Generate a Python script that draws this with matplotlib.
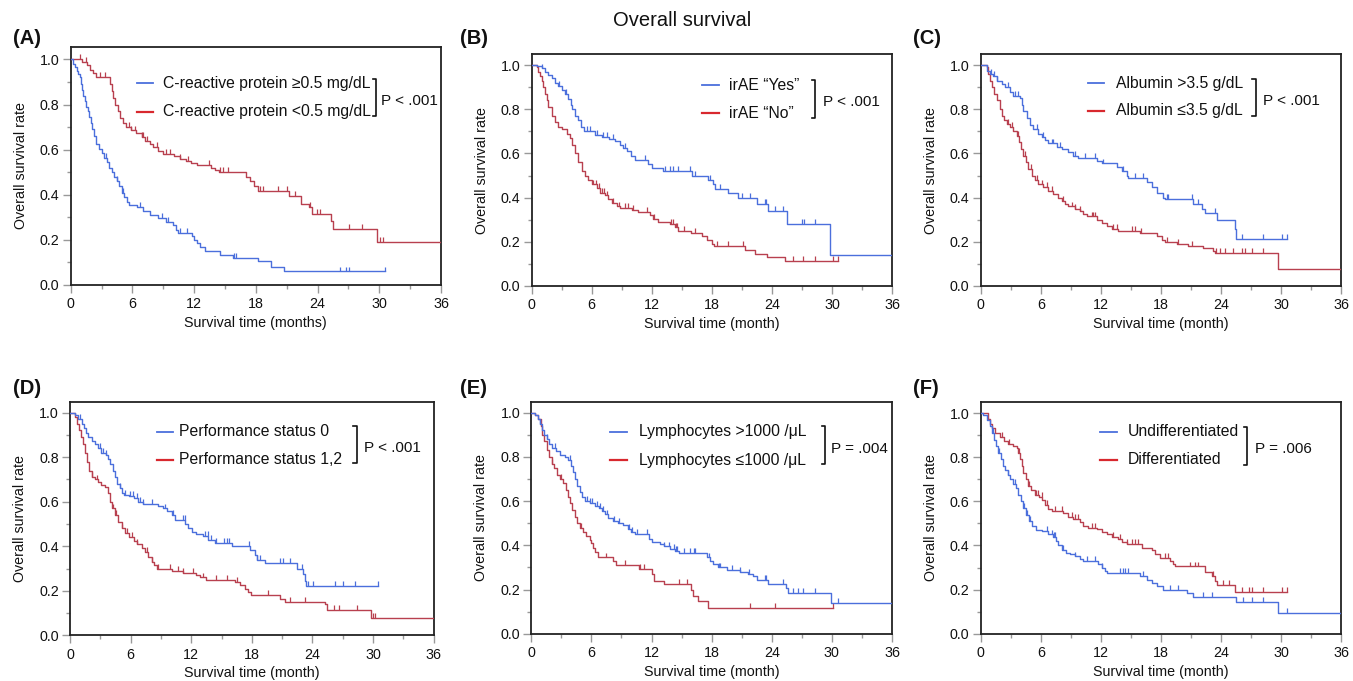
import numpy as np
import matplotlib
matplotlib.use("Agg")
import matplotlib.pyplot as plt
import matplotlib.transforms as mtransforms
from matplotlib.lines import Line2D
from matplotlib.ticker import MultipleLocator

plt.rcParams['font.family'] = ['Liberation Sans', 'DejaVu Sans']

W, H = 1353, 681

# ---------------- data ----------------
title = "Overall survival"
panel_labels = ["(A)", "(B)", "(C)", "(D)", "(E)", "(F)"]
xlabels = ["Survival time (months)", "Survival time (month)", "Survival time (month)",
           "Survival time (month)", "Survival time (month)", "Survival time (month)"]
ylabel = "Overall survival rate"
legend_blue = ["C-reactive protein \u22650.5 mg/dL", "irAE \u201cYes\u201d", "Albumin >3.5 g/dL",
               "Performance status 0", "Lymphocytes >1000 /\u03bcL", "Undifferentiated"]
legend_red = ["C-reactive protein <0.5 mg/dL", "irAE \u201cNo\u201d", "Albumin \u22643.5 g/dL",
              "Performance status 1,2", "Lymphocytes \u22641000 /\u03bcL", "Differentiated"]
p_values = ["P < .001", "P < .001", "P < .001", "P < .001", "P = .004", "P = .006"]
x_ticks = [0, 6, 12, 18, 24, 30, 36]
y_ticks = [0.0, 0.2, 0.4, 0.6, 0.8, 1.0]

# Panel A
a_blue_t = [0.25,0.45,0.6,0.75,0.9,1.0,1.1,1.2,1.35,1.5,1.65,1.8,1.95,2.1,2.3,2.5,2.75,3.0,3.25,3.5,3.75,4.0,4.25,4.5,4.7,4.95,5.2,5.45,5.65,6.4,7.05,7.7,8.5,9.3,9.9,10.2,10.45,11.8,11.95,12.3,12.6,13.05,14.5,15.8,18.2,19.5,20.7]
a_blue_s = [0.98,0.965,0.95,0.935,0.92,0.89,0.865,0.84,0.815,0.79,0.77,0.745,0.72,0.69,0.66,0.625,0.605,0.585,0.565,0.545,0.52,0.50,0.48,0.46,0.44,0.41,0.39,0.37,0.355,0.345,0.33,0.31,0.295,0.28,0.265,0.245,0.23,0.215,0.20,0.185,0.17,0.15,0.135,0.12,0.105,0.08,0.06]
a_blue_end = 30.6
a_blue_cens = [3.4,4.5,5.05,6.7,8.85,9.5,10.6,11.3,15.9,16.1,26.2,26.8,27.1,30.6]
a_red_t = [1.05,1.6,1.85,2.2,2.5,3.8,4.0,4.15,4.35,4.55,4.8,5.1,5.4,5.9,6.3,6.9,7.2,7.7,8.0,8.5,9.0,10.0,10.6,11.2,11.7,12.3,13.6,14.0,14.4,17.0,17.4,17.8,18.2,21.2,22.4,23.2,23.5,25.3,25.5,29.75]
a_red_s = [0.99,0.975,0.955,0.94,0.92,0.89,0.86,0.83,0.80,0.77,0.74,0.72,0.70,0.685,0.675,0.655,0.64,0.625,0.61,0.595,0.58,0.57,0.56,0.55,0.54,0.53,0.52,0.51,0.50,0.48,0.46,0.44,0.415,0.395,0.36,0.345,0.315,0.285,0.25,0.19]
a_red_end = 36
a_red_cens = [0.9,1.5,2.85,3.35,5.7,5.9,6.25,6.9,7.05,7.4,8.35,9.3,9.65,10.6,11.45,13.4,14.5,14.85,15.3,18.4,18.7,20.2,21.0,21.8,23.3,23.9,24.25,27.1,28.3,30.1,30.4]

# Panel B
b_blue_t = [0.5,1.0,1.33,1.67,2.0,2.33,2.66,3.0,3.33,3.66,3.9,4.05,4.3,4.65,4.95,5.25,6.3,7.0,7.7,8.3,8.8,9.15,9.5,9.9,10.3,11.6,12.0,13.15,16.0,17.65,18.1,18.3,19.65,20.65,22.5,23.6,25.5,29.8]
b_blue_s = [0.995,0.985,0.97,0.955,0.94,0.92,0.905,0.885,0.87,0.845,0.82,0.80,0.77,0.75,0.72,0.70,0.685,0.675,0.665,0.655,0.64,0.625,0.61,0.59,0.57,0.55,0.535,0.52,0.50,0.48,0.46,0.44,0.42,0.40,0.37,0.34,0.28,0.14]
b_blue_end = 36
b_blue_cens = [1.07,2.7,3.4,5.5,5.85,6.5,7.1,7.5,8.16,9.3,11.3,13.3,13.8,14.15,14.65,15.8,16.3,17.8,18.8,21.0,21.8,23.3,23.45,24.3,25.1,27.0,27.2,28.3]
b_red_t = [0.5,0.67,0.83,1.0,1.17,1.33,1.5,1.67,2.0,2.33,2.66,3.0,3.5,3.83,4.0,4.33,4.67,5.0,5.33,5.66,6.0,6.5,6.83,7.33,7.66,8.0,8.5,8.8,10.0,10.66,11.8,12.15,12.66,13.8,14.3,14.65,15.9,17.0,17.5,18.0,18.25,21.3,22.3,23.5,25.3]
b_red_s = [0.99,0.97,0.95,0.93,0.90,0.87,0.84,0.81,0.77,0.74,0.72,0.71,0.69,0.67,0.64,0.60,0.56,0.52,0.50,0.48,0.46,0.445,0.42,0.41,0.395,0.375,0.36,0.355,0.345,0.335,0.32,0.305,0.29,0.28,0.265,0.25,0.24,0.225,0.21,0.19,0.18,0.165,0.145,0.13,0.115]
b_red_end = 30.6
b_red_cens = [6.1,6.4,6.7,7.0,7.2,7.5,8.1,8.7,9.3,9.65,10.1,11.5,12.2,13.95,14.1,14.4,14.5,15.2,16.3,18.5,19.65,21.1,26.1,27.1,28.3,30.1,30.6]

# Panel C
c_blue_t = [0.6,0.93,1.27,1.6,2.1,2.43,2.93,3.26,3.93,4.1,4.26,4.6,4.93,5.26,5.76,6.1,6.43,6.76,7.6,8.1,8.76,9.26,9.76,11.6,12.1,13.6,14.1,14.6,14.75,16.6,17.1,17.6,18.25,18.4,21.25,22.1,22.4,23.6,25.4,25.5]
c_blue_s = [0.975,0.96,0.95,0.93,0.915,0.90,0.88,0.86,0.85,0.82,0.79,0.76,0.73,0.71,0.69,0.675,0.66,0.645,0.63,0.62,0.605,0.59,0.58,0.565,0.555,0.54,0.52,0.50,0.49,0.47,0.45,0.42,0.40,0.395,0.37,0.35,0.33,0.30,0.26,0.213]
c_blue_end = 30.6
c_blue_cens = [1.0,1.3,1.65,2.76,3.4,3.76,5.6,6.2,7.1,7.26,7.9,9.43,10.4,11.4,12.2,14.25,15.4,16.25,18.6,18.75,21.1,21.75,23.4,26.1,28.2,30.1,30.6]
c_red_t = [0.6,0.77,0.93,1.17,1.37,1.6,1.93,2.1,2.33,2.6,2.93,3.26,3.6,3.83,4.03,4.26,4.5,4.76,5.1,5.43,5.76,6.26,6.76,7.26,7.76,8.1,8.43,8.76,9.43,9.9,10.26,10.6,11.6,12.1,12.6,13.1,13.75,15.9,17.6,18.1,18.4,19.6,20.75,22.25,23.25,23.4,29.75]
c_red_s = [0.99,0.96,0.93,0.90,0.87,0.84,0.80,0.77,0.75,0.735,0.72,0.70,0.68,0.65,0.62,0.59,0.56,0.53,0.50,0.48,0.46,0.45,0.43,0.415,0.40,0.385,0.37,0.36,0.35,0.34,0.325,0.315,0.30,0.285,0.27,0.26,0.25,0.24,0.225,0.21,0.20,0.19,0.18,0.17,0.16,0.15,0.075]
c_red_end = 36
c_red_cens = [2.76,3.1,3.76,4.4,5.05,5.6,6.1,6.6,7.1,8.2,9.1,9.45,9.95,11.1,11.25,11.4,13.2,13.6,15.1,15.4,16.0,18.6,19.75,21.1,23.5,23.9,24.4,25.2,26.1,26.4,27.1,28.2]

# Panel D
d_blue_t = [0.5,0.83,1.15,1.4,1.6,1.8,2.15,2.5,2.8,3.1,3.55,3.8,4.0,4.3,4.45,4.7,4.9,5.1,5.35,5.8,6.3,6.75,7.25,8.75,9.25,9.6,10.1,10.4,11.4,11.7,12.05,12.5,13.2,13.7,14.35,16.0,17.8,18.3,18.5,19.3,22.45,23.1,23.25,23.4]
d_blue_s = [0.99,0.97,0.95,0.93,0.91,0.89,0.875,0.86,0.84,0.82,0.81,0.79,0.77,0.74,0.71,0.68,0.66,0.64,0.63,0.625,0.615,0.60,0.59,0.58,0.57,0.56,0.54,0.52,0.50,0.48,0.465,0.455,0.445,0.43,0.415,0.40,0.385,0.36,0.34,0.325,0.30,0.275,0.245,0.22]
d_blue_end = 30.5
d_blue_cens = [1.0,2.97,3.3,3.6,4.95,5.45,5.95,6.27,6.6,6.93,7.26,8.1,9.4,10.23,11.2,11.35,13.35,13.65,14.0,14.5,15.2,15.5,15.7,17.7,18.55,18.8,20.8,21.1,21.8,22.95,23.6,24.1,26.2,27.0,28.2,30.5]
d_red_t = [0.5,0.73,0.92,1.05,1.25,1.5,1.7,1.9,2.15,2.5,2.8,3.1,3.45,3.8,4.0,4.2,4.45,4.8,5.1,5.45,5.8,6.3,6.6,7.1,7.4,7.75,8.1,8.3,8.6,10.1,11.2,12.5,12.9,13.5,16.3,16.8,17.3,17.65,17.9,20.8,21.3,25.2,25.4,29.75]
d_red_s = [0.98,0.95,0.92,0.89,0.86,0.82,0.78,0.74,0.71,0.70,0.69,0.675,0.665,0.64,0.60,0.57,0.54,0.51,0.48,0.46,0.44,0.425,0.41,0.39,0.375,0.35,0.33,0.315,0.30,0.29,0.28,0.27,0.26,0.25,0.24,0.225,0.21,0.195,0.18,0.165,0.15,0.14,0.115,0.077]
d_red_end = 36
d_red_cens = [2.2,2.65,4.3,4.6,5.1,5.6,6.1,6.6,7.6,8.1,8.75,9.9,10.7,11.2,12.2,13.2,14.5,15.5,16.5,19.6,21.8,23.3,26.1,26.6,28.4,30.0,30.2]

# Panel E
e_blue_t = [0.37,0.63,0.87,1.1,1.3,1.53,1.76,2.1,2.43,2.86,3.36,3.7,3.96,4.2,4.36,4.6,4.86,5.1,5.4,5.85,6.35,6.75,7.1,7.35,7.7,8.2,8.7,9.2,9.7,10.0,10.35,11.7,12.0,12.85,13.2,13.85,14.35,14.7,17.5,17.8,18.15,18.65,19.5,20.8,21.65,22.15,22.5,23.65,25.4,25.6,29.9]
e_blue_s = [0.99,0.97,0.95,0.92,0.90,0.88,0.86,0.84,0.825,0.81,0.80,0.785,0.76,0.73,0.70,0.67,0.64,0.62,0.60,0.59,0.58,0.57,0.555,0.54,0.525,0.51,0.50,0.49,0.475,0.46,0.45,0.43,0.415,0.405,0.395,0.385,0.375,0.365,0.345,0.33,0.315,0.30,0.29,0.28,0.27,0.26,0.245,0.225,0.205,0.185,0.14]
e_blue_end = 36
e_blue_cens = [0.9,1.6,2.36,3.86,5.53,5.9,6.03,6.53,6.9,7.2,7.53,8.25,8.75,9.75,10.05,10.5,11.5,13.25,13.7,14.2,14.4,14.5,15.2,15.85,16.2,16.35,17.7,18.7,18.85,20.0,20.85,21.7,23.3,23.45,25.1,26.1,26.6,27.1,28.3,30.6]
e_red_t = [0.37,0.7,0.96,1.1,1.3,1.53,1.76,2.03,2.3,2.53,2.86,3.2,3.43,3.63,3.86,4.1,4.36,4.6,4.86,5.2,5.5,5.85,6.0,6.2,6.4,6.7,8.2,8.5,10.7,12.0,12.2,13.2,15.95,16.1,16.65,17.65]
e_red_s = [0.99,0.97,0.94,0.90,0.87,0.83,0.80,0.77,0.75,0.72,0.70,0.68,0.65,0.62,0.59,0.56,0.53,0.50,0.48,0.46,0.44,0.425,0.41,0.39,0.37,0.345,0.33,0.31,0.295,0.27,0.24,0.225,0.20,0.17,0.15,0.115]
e_red_end = 30.15
e_red_cens = [2.1,3.0,5.0,7.5,9.35,10.85,11.2,14.7,15.5,21.8,24.3,30.15]

# Panel F
f_blue_t = [0.27,0.6,0.93,1.17,1.37,1.53,1.77,2.0,2.2,2.43,2.7,2.93,3.2,3.53,3.76,4.0,4.26,4.5,4.83,5.16,5.5,6.1,6.76,7.26,7.5,7.76,8.1,8.5,8.9,9.43,9.93,10.26,11.75,12.1,12.4,12.6,15.9,16.6,17.1,17.6,18.25,20.6,21.25,25.5,29.75]
f_blue_s = [0.99,0.97,0.94,0.91,0.88,0.85,0.82,0.79,0.76,0.74,0.72,0.70,0.68,0.66,0.63,0.60,0.57,0.54,0.51,0.49,0.47,0.465,0.45,0.44,0.42,0.40,0.38,0.365,0.36,0.35,0.34,0.33,0.315,0.30,0.285,0.275,0.26,0.245,0.23,0.215,0.20,0.185,0.165,0.145,0.095]
f_blue_end = 36
f_blue_cens = [1.27,1.87,2.76,3.43,4.3,4.6,4.93,6.6,7.1,7.3,7.43,8.26,9.45,10.6,11.4,12.15,13.9,14.25,14.4,14.7,16.25,18.9,19.75,22.25,23.1,26.2,27.1,28.2,30.6]
f_red_t = [0.7,0.93,1.17,1.43,1.93,2.36,2.76,3.26,3.6,3.76,3.93,4.1,4.26,4.5,4.76,5.03,5.43,5.83,6.16,6.43,6.76,7.1,8.26,8.76,9.26,9.93,10.26,10.76,11.6,12.1,12.6,13.1,13.75,14.1,14.6,16.1,17.1,17.4,17.9,18.9,19.25,19.4,22.4,23.1,23.4,23.6,25.4]
f_red_s = [0.975,0.95,0.93,0.91,0.89,0.875,0.86,0.85,0.84,0.82,0.79,0.76,0.73,0.70,0.67,0.65,0.63,0.62,0.605,0.585,0.565,0.555,0.545,0.53,0.52,0.505,0.49,0.48,0.475,0.46,0.45,0.44,0.43,0.415,0.405,0.39,0.38,0.36,0.345,0.33,0.315,0.305,0.28,0.26,0.24,0.22,0.19]
f_red_end = 30.6
f_red_cens = [2.1,2.83,3.8,4.8,5.5,5.76,6.1,6.6,7.43,8.1,9.1,9.43,9.76,11.1,11.43,13.2,13.9,14.65,15.1,15.4,15.76,18.4,18.76,20.9,21.4,21.76,23.25,24.25,24.76,26.1,26.76,27.1,28.2,30.1,30.6]

# ---------------- layout (pixels, top-left origin) ----------------
boxes = [  # left, right, top, bottom, ymax
    (70.7, 441.0, 47.0, 285.0, 1.055),
    (531.7, 892.0, 54.0, 286.0, 1.05),
    (980.7, 1341.0, 54.0, 286.0, 1.05),
    (70.0, 433.7, 402.0, 635.3, 1.048),
    (531.3, 892.0, 401.7, 633.7, 1.05),
    (980.7, 1341.0, 402.0, 633.7, 1.05),
]
leg = [  # handle x0, x1, row1 y, row2 y, text x, bracket x, bracket y0, y1, p x, p y
    (136.7, 153.3, 83.3, 111.7, 163.3, 376.0, 79.3, 116.0, 380.7, 101.0),
    (702.3, 719.0, 85.0, 113.3, 729.0, 815.0, 80.0, 117.7, 822.7, 101.7),
    (1087.7, 1104.3, 83.3, 111.0, 1115.7, 1255.7, 79.0, 116.0, 1263.3, 100.7),
    (157.3, 173.3, 431.7, 460.0, 179.3, 356.7, 425.7, 463.3, 364.3, 448.3),
    (610.3, 627.0, 431.7, 460.0, 639.3, 825.0, 426.0, 464.0, 831.0, 449.0),
    (1100.0, 1116.7, 431.7, 460.0, 1127.7, 1247.3, 426.7, 465.0, 1255.0, 449.0),
]
label_pos = [(12.7, 39), (460, 39), (913, 39), (12.7, 388), (460, 388), (913, 388)]

series = [
    ((a_blue_t, a_blue_s, a_blue_end, a_blue_cens), (a_red_t, a_red_s, a_red_end, a_red_cens)),
    ((b_blue_t, b_blue_s, b_blue_end, b_blue_cens), (b_red_t, b_red_s, b_red_end, b_red_cens)),
    ((c_blue_t, c_blue_s, c_blue_end, c_blue_cens), (c_red_t, c_red_s, c_red_end, c_red_cens)),
    ((d_blue_t, d_blue_s, d_blue_end, d_blue_cens), (d_red_t, d_red_s, d_red_end, d_red_cens)),
    ((e_blue_t, e_blue_s, e_blue_end, e_blue_cens), (e_red_t, e_red_s, e_red_end, e_red_cens)),
    ((f_blue_t, f_blue_s, f_blue_end, f_blue_cens), (f_red_t, f_red_s, f_red_end, f_red_cens)),
]

BLUE = '#4b6fdc'
RED = '#b8404f'
RED_LEG = '#d8282e'

fig = plt.figure(figsize=(W / 100, H / 100), dpi=100)
fig.patch.set_facecolor('white')
T = mtransforms.Affine2D().scale(1.0 / W, -1.0 / H).translate(0, 1) + fig.transFigure

fig.text(682 / W, 1 - 20 / H, title, ha='center', va='center', fontsize=14.5, color='#111111')


def km(ax, t, s, end, cens, color):
    tt = np.concatenate([[0.0], np.asarray(t, float), [end]])
    ss = np.concatenate([[1.0], np.asarray(s, float), [s[-1]]])
    ax.step(tt, ss, where='post', color=color, lw=1.0, zorder=3)
    c = np.asarray(cens, float)
    idx = np.searchsorted(tt[:-1], c, side='right') - 1
    ax.vlines(c, ss[idx], ss[idx] + 0.022, color=color, lw=0.9, zorder=3)


for i in range(6):
    l, r, tp, b, ymax = boxes[i]
    ax = fig.add_axes([l / W, 1 - b / H, (r - l) / W, (b - tp) / H])
    (bt, bs, be, bc), (rt, rs, re_, rc) = series[i]
    km(ax, rt, rs, re_, rc, RED)
    km(ax, bt, bs, be, bc, BLUE)
    ax.set_xlim(0, 36)
    ax.set_ylim(0, ymax)
    ax.set_xticks(x_ticks)
    ax.set_yticks(y_ticks)
    ax.set_yticklabels([f"{v:.1f}" for v in y_ticks])
    ax.xaxis.set_minor_locator(MultipleLocator(3))
    ax.yaxis.set_minor_locator(MultipleLocator(0.1))
    ax.tick_params(which='major', direction='out', length=5.5, width=1.0, color='#999999',
                   labelsize=10.3, labelcolor='#111111')
    ax.tick_params(axis='x', which='major', pad=3.5)
    ax.tick_params(axis='y', which='major', pad=2.5)
    ax.tick_params(which='minor', direction='out', length=3, width=1.0, color='#999999')
    for sp in ax.spines.values():
        sp.set_linewidth(1.3)
        sp.set_color('#222222')
    ax.set_xlabel(xlabels[i], fontsize=10.3, color='#111111')
    ax.xaxis.set_label_coords(0.5, -38.0 / (b - tp))
    ax.xaxis.label.set_va('center')
    ax.set_ylabel(ylabel, fontsize=10.3, color='#111111')
    ax.yaxis.set_label_coords(-50.0 / (r - l), 0.5)
    ax.yaxis.label.set_va('center')

    # legend
    hx0, hx1, y1, y2, tx, bx, by0, by1, px, py = leg[i]
    ax.add_line(Line2D([hx0, hx1], [y1, y1], transform=T, color=BLUE, lw=1.3, clip_on=False))
    ax.add_line(Line2D([hx0, hx1], [y2, y2], transform=T, color=RED_LEG, lw=1.6, clip_on=False))
    ax.text(tx, y1, legend_blue[i], transform=T, ha='left', va='center', fontsize=11.3, color='#111111')
    ax.text(tx, y2, legend_red[i], transform=T, ha='left', va='center', fontsize=11.3, color='#111111')
    ax.add_line(Line2D([bx - 3.5, bx, bx, bx - 3.5], [by0, by0, by1, by1], transform=T,
                       color='#111111', lw=1.2, clip_on=False))
    ax.text(px, py, p_values[i], transform=T, ha='left', va='center', fontsize=11.0, color='#111111')

    lx, ly = label_pos[i]
    fig.text(lx / W, 1 - ly / H, panel_labels[i], ha='left', va='center', fontsize=14.5,
             fontweight='bold', color='#111111')

fig.savefig('out.png', dpi=100, facecolor='white')
